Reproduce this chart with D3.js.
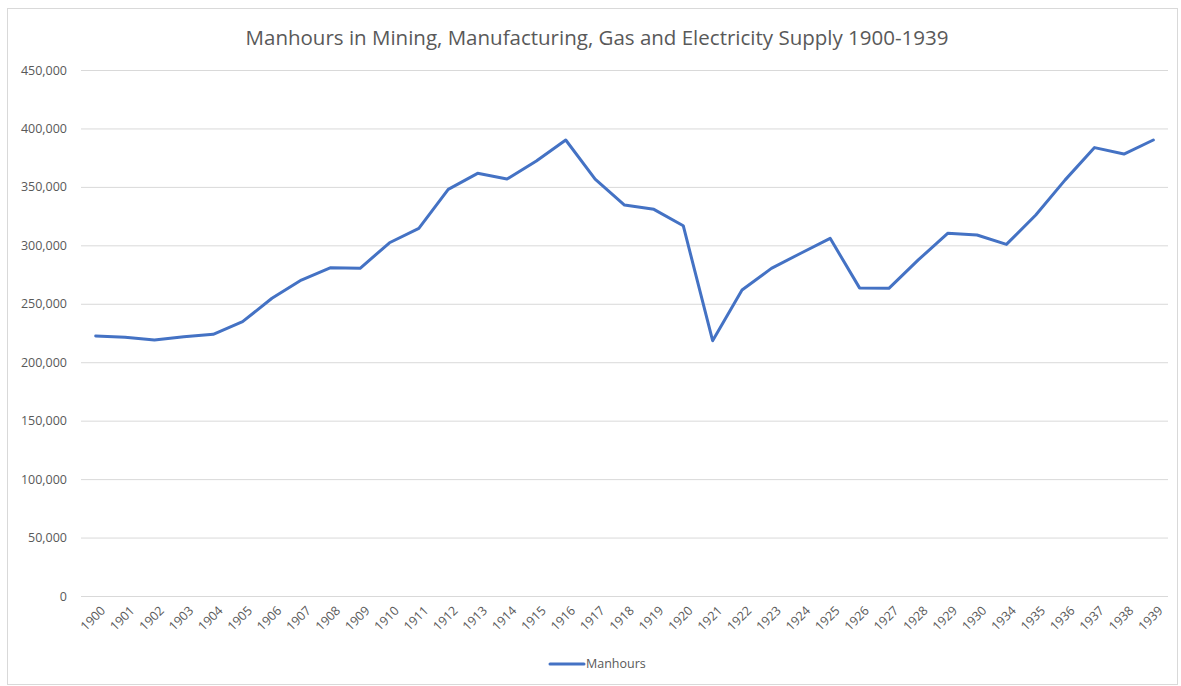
<!DOCTYPE html>
<html>
<head>
<meta charset="utf-8">
<script src="https://cdn.jsdelivr.net/npm/d3@7"></script>
<style>
  body { margin: 0; background: #fff; }
  text { font-family: "Open Sans", sans-serif; }
</style>
</head>
<body>
<svg id="chart" width="1181" height="686"></svg>
<script>
// Data
var years = ["1900","1901","1902","1903","1904","1905","1906","1907","1908","1909",
  "1910","1911","1912","1913","1914","1915","1916","1917","1918","1919",
  "1920","1921","1922","1923","1924","1925","1926","1927","1928","1929",
  "1930","1934","1935","1936","1937","1938","1939"]
var manhours = [222400, 221300, 219000, 221800, 223900, 234700, 254700, 270300, 280900, 280300,
  302200, 314500, 347900, 361600, 356700, 372100, 390100, 356700, 334500, 330800,
  316800, 218400, 261800, 280300, 293200, 306000, 263600, 263200, 287500, 310300,
  308800, 300800, 326000, 356000, 383600, 378100, 390100]
var yTicks = [0, 50000, 100000, 150000, 200000, 250000, 300000, 350000, 400000, 450000]
var title = "Manhours in Mining, Manufacturing, Gas and Electricity Supply 1900-1939"
var seriesName = "Manhours"

var svg = d3.select("#chart")
var lineColor = "#4472c4"
var textColor = "#595959"

// outer frame
svg.append("rect")
  .attr("x", 7.5).attr("y", 8.5)
  .attr("width", 1170).attr("height", 676)
  .attr("fill", "#fff")
  .attr("stroke", "#d9d9d9")

var plotLeft = 81, plotRight = 1168, plotTop = 70, plotBottom = 596

var x = d3.scaleBand()
  .domain(years)
  .range([plotLeft, plotRight])

var y = d3.scaleLinear()
  .domain([0, 450000])
  .range([plotBottom, plotTop])

// title
svg.append("text")
  .attr("x", 597).attr("y", 45)
  .attr("text-anchor", "middle")
  .attr("fill", textColor)
  .style("font-size", "20.5px")
  .text(title)

// gridlines + y labels
var yAxis = svg.append("g")
  .attr("transform", "translate(" + plotLeft + ",0)")
  .call(d3.axisLeft(y)
    .tickValues(yTicks)
    .tickSize(-(plotRight - plotLeft))
    .tickPadding(14)
    .tickFormat(d3.format(",")))
yAxis.select(".domain").remove()
yAxis.selectAll(".tick line").attr("stroke", "#d9d9d9")
yAxis.selectAll(".tick text")
  .attr("fill", textColor)
  .style("font-size", "12.5px")

// x axis labels, rotated
var xAxis = svg.append("g")
  .attr("transform", "translate(0," + plotBottom + ")")
  .call(d3.axisBottom(x).tickSize(0).tickPadding(0))
xAxis.select(".domain").remove()
xAxis.selectAll(".tick text")
  .attr("fill", textColor)
  .style("font-size", "12.5px")
  .attr("text-anchor", "end")
  .attr("y", 0)
  .attr("dy", null)
  .attr("dominant-baseline", "hanging")
  .attr("transform", "translate(3,8) rotate(-45)")

// the series line
var line = d3.line()
  .x(function(d, i) { return x(years[i]) + x.bandwidth() / 2 })
  .y(function(d) { return y(d) })

svg.append("path")
  .datum(manhours)
  .attr("d", line)
  .attr("fill", "none")
  .attr("stroke", lineColor)
  .attr("stroke-width", 3)
  .attr("stroke-linejoin", "round")
  .attr("stroke-linecap", "round")

// legend
var legend = svg.append("g").attr("transform", "translate(550,664)")
legend.append("line")
  .attr("x1", 0).attr("x2", 34)
  .attr("stroke", lineColor)
  .attr("stroke-width", 3)
  .attr("stroke-linecap", "round")
legend.append("text")
  .attr("x", 36).attr("y", 0)
  .attr("dy", "0.35em")
  .attr("fill", textColor)
  .style("font-size", "12.5px")
  .text(seriesName)
</script>
</body>
</html>
